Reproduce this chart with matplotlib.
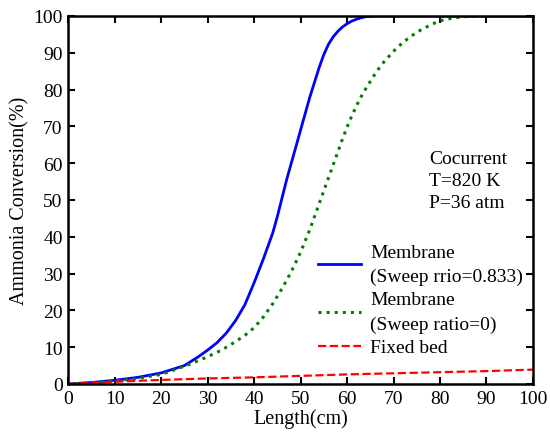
import numpy as np
import matplotlib
matplotlib.use('Agg')
import matplotlib.pyplot as plt

# length (cm) and conversion (%)
len_sweep = [0, 5, 10, 15, 20, 25, 28, 30, 32, 34, 36, 38, 40, 42, 44, 45, 46, 47, 48, 49, 50,
             51, 52, 53, 54, 55, 56, 57, 58, 59, 60, 61, 62, 63, 64, 66, 70, 80, 90, 100]
conv_sweep = [0, 0.4, 1.0, 1.8, 3.0, 5.0, 7.4, 9.2, 11.2, 13.8, 17.2, 21.5, 27.5, 34, 41, 45.5, 50.5, 55.5, 60, 64.5, 69,
              73.5, 78, 82, 86, 89.5, 92.3, 94.3, 95.8, 97, 97.9, 98.6, 99.1, 99.5, 99.8, 100, 100, 100, 100, 100]

len_nosweep = [0, 5, 10, 15, 20, 23, 26, 30, 33, 36, 38, 40, 42, 44, 46, 48, 50, 52, 53, 54, 55, 56, 57, 58, 59,
               60, 61, 62, 63, 64, 65, 66, 67, 68, 70, 72, 75, 78, 80, 83, 86, 90, 100]
conv_nosweep = [0, 0.3, 0.8, 1.5, 2.6, 3.9, 5.3, 7.4, 9.2, 11.5, 13.2, 15.3, 18.2, 21.8, 25.9, 30.5, 35.8, 42, 45.5, 49, 52.5, 56, 59.5, 63, 66.5,
                69.8, 72.8, 75.5, 78, 80.2, 82.2, 84.2, 86, 87.6, 90.4, 92.8, 95.6, 97.6, 98.7, 99.5, 99.9, 100, 100]

len_fixed = [0, 5, 10, 20, 30, 40, 50, 60, 70, 80, 90, 100]
conv_fixed = [0, 0.3, 0.6, 1.1, 1.5, 1.8, 2.2, 2.6, 2.9, 3.2, 3.5, 3.9]

labels = ['Membrane\n(Sweep rrio=0.833)', 'Membrane\n(Sweep ratio=0)', 'Fixed bed']

plt.rcParams['font.family'] = ['Liberation Serif', 'DejaVu Serif']

fig = plt.figure(figsize=(5.5, 4.35), dpi=100)
ax = fig.add_axes([0.124, 0.115, 0.845, 0.846])

ax.plot(len_sweep, conv_sweep, '-', color='#0000ff', lw=2, label=labels[0])
ax.plot(len_nosweep, conv_nosweep, ':', color='#008000', lw=2.2, label=labels[1])
ax.plot(len_fixed, conv_fixed, '--', color='#ff0000', lw=1.6, label=labels[2])

ax.set_xlim(0, 100)
ax.set_ylim(0, 100)
ax.set_xticks(np.arange(0, 101, 10))
ax.set_yticks(np.arange(0, 101, 10))
ax.tick_params(direction='in', top=True, right=True, length=5, width=1.5, labelsize=14, pad=4)
for s in ax.spines.values():
    s.set_linewidth(1.8)

ax.set_xlabel('Length(cm)', fontsize=14.5, labelpad=1)
ax.set_ylabel('Ammonia Conversion(%)', fontsize=14.5, labelpad=3)

ax.text(77.7, 55.3, 'Cocurrent\nT=820 K\nP=36 atm', fontsize=14, va='center', ha='left', linespacing=1.42)

leg = ax.legend(loc='lower left', bbox_to_anchor=(0.537, 0.075), frameon=False, fontsize=14,
                handlelength=2.2, handletextpad=0.5, labelspacing=0.3, borderpad=0, borderaxespad=0)
for t in leg.get_texts():
    t.set_linespacing(1.55)

fig.savefig('out.png', dpi=100)
